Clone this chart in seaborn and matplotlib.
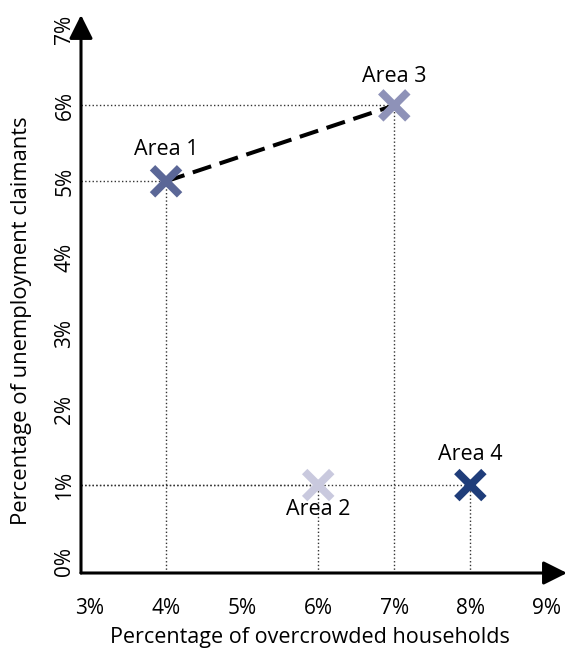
import pandas as pd
import numpy as np
import matplotlib
matplotlib.use("Agg")
import matplotlib.pyplot as plt
import seaborn as sns

areas = ["Area 1", "Area 2", "Area 3", "Area 4"]
overcrowded = [4, 6, 7, 8]
claimants = [5, 1, 6, 1]
colours = ["#5b6797", "#c9c9de", "#8e92b8", "#1f3d7a"]
x_ticks = [3, 4, 5, 6, 7, 8, 9]
y_ticks = [0, 1, 2, 3, 4, 5, 6, 7]
link = ["Area 1", "Area 3"]

sns.set_style("white")
plt.rcParams['font.family'] = ['Open Sans', 'DejaVu Sans']
plt.rcParams['text.color'] = 'black'
plt.rcParams['axes.labelcolor'] = 'black'
plt.rcParams['xtick.color'] = 'black'
plt.rcParams['ytick.color'] = 'black'

df = pd.DataFrame({"area": areas, "x": overcrowded, "y": claimants})

fig = plt.figure(figsize=(5.68, 6.49), dpi=100)
ax = fig.add_axes([0.1426, 0.1171, 0.8556, 0.8598])
x0, x1 = 2.882, 9.27
y0, y1 = -0.158, 7.19
ax.set_xlim(x0, x1)
ax.set_ylim(y0, y1)

# dotted guide lines back to the axes
for xi, yi in zip(overcrowded, claimants):
    ax.plot([x0, xi], [yi, yi], ls=":", color="#333333", lw=1, zorder=1)
    ax.plot([xi, xi], [y0, yi], ls=":", color="#333333", lw=1, zorder=1)

# dashed link between area 1 and area 3
sub = df[df["area"].isin(link)]
sns.lineplot(data=sub, x="x", y="y", color="black", lw=2.9, ax=ax,
             dashes=False, zorder=2)
ax.lines[-1].set_dashes([4.8, 2.2])

sns.scatterplot(data=df, x="x", y="y", hue="area", palette=colours,
                marker="x", s=380, linewidth=5.5, ax=ax, legend=False, zorder=3)

offsets = {"Area 1": 0.42, "Area 2": -0.32, "Area 3": 0.38, "Area 4": 0.4}
for a, xi, yi in zip(areas, overcrowded, claimants):
    ax.text(xi, yi + offsets[a], a, ha="center", va="center", fontsize=15.5)

# arrowed axes
for s in ax.spines.values():
    s.set_visible(False)
ax.annotate("", xy=(x1, y0), xytext=(x0, y0),
            arrowprops=dict(arrowstyle="-|>", color="black", lw=2.2,
                            mutation_scale=36, shrinkA=0, shrinkB=0),
            annotation_clip=False)
ax.annotate("", xy=(x0, y1), xytext=(x0, y0),
            arrowprops=dict(arrowstyle="-|>", color="black", lw=2.2,
                            mutation_scale=36, shrinkA=0, shrinkB=0),
            annotation_clip=False)

ax.set_xticks(x_ticks)
ax.set_xticklabels([f"{t}%" for t in x_ticks], fontsize=15)
ax.set_yticks(y_ticks)
ax.set_yticklabels([f"{t}%" for t in y_ticks], fontsize=15, rotation=90, va="center")
ax.tick_params(axis="x", length=0, pad=18)
ax.tick_params(axis="y", length=0, pad=4)
ax.set_xlabel("Percentage of overcrowded households", fontsize=15.5)
ax.set_ylabel("Percentage of unemployment claimants", fontsize=15.8)
ax.xaxis.label.set_va("center")
ax.yaxis.label.set_va("center")
ax.xaxis.set_label_coords(0.471, -0.1147)
ax.yaxis.set_label_coords(-0.1214, 0.4516)

fig.savefig("out.png", dpi=100)
